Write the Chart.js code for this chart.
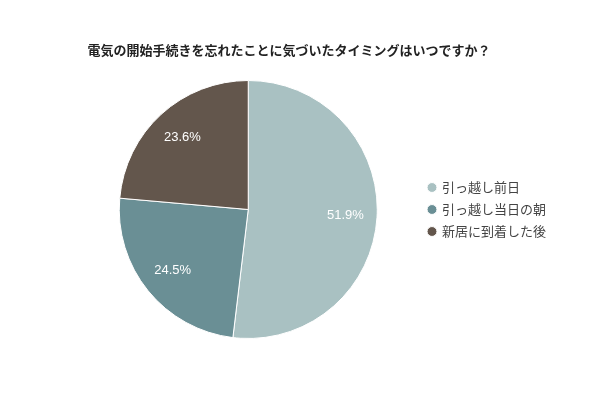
<!DOCTYPE html>
<html>
<head>
<meta charset="utf-8">
<script src="https://cdn.jsdelivr.net/npm/chart.js@4"></script>
<style>
  html, body { margin: 0; padding: 0; background: #fff; }
  #wrap { width: 600px; height: 400px; }
</style>
</head>
<body>
<div id="wrap"><canvas id="pieChart"></canvas></div>
<script>
const chartTitle = '電気の開始手続きを忘れたことに気づいたタイミングはいつですか？';
const labels = ["引っ越し前日", "引っ越し当日の朝", "新居に到着した後"];
const values = [51.9, 24.5, 23.6];
const colors = ["#a9c1c2", "#6a8f95", "#63564c"];

// タイトル（凡例と関係なく位置を決めたいので自前で描画）
const titleText = {
  id: 'titleText',
  afterDraw(chart) {
    const ctx = chart.ctx;
    ctx.save();
    ctx.fillStyle = '#222';
    ctx.font = 'bold 13px "Noto Sans CJK JP", sans-serif';
    ctx.textAlign = 'center';
    ctx.textBaseline = 'middle';
    ctx.fillText(chartTitle, 289, 50);
    ctx.restore();
  }
};

// スライス内にパーセント表示
const sliceLabels = {
  id: 'sliceLabels',
  afterDatasetsDraw(chart) {
    const ctx = chart.ctx;
    const meta = chart.getDatasetMeta(0);
    ctx.save();
    ctx.fillStyle = '#fff';
    ctx.font = '13px "Liberation Sans", Arial, sans-serif';
    ctx.textAlign = 'center';
    ctx.textBaseline = 'middle';
    meta.data.forEach((arc, i) => {
      const p = arc.getProps(['x', 'y', 'startAngle', 'endAngle', 'outerRadius'], true);
      const mid = (p.startAngle + p.endAngle) / 2;
      const r = p.outerRadius * 0.755;
      ctx.fillText(values[i].toFixed(1) + '%', p.x + Math.cos(mid) * r, p.y + Math.sin(mid) * r);
    });
    ctx.restore();
  }
};

var ctx = document.getElementById('pieChart').getContext('2d');
var myChart = new Chart(ctx, {
  type: 'pie',
  data: {
    labels: labels,
    datasets: [{
      data: values,
      backgroundColor: colors,
      borderColor: '#fff',
      borderWidth: 1
    }]
  },
  options: {
    responsive: true,
    maintainAspectRatio: false,
    animation: false,
    layout: {
      padding: { top: 80, bottom: 61, left: 77, right: 44 }
    },
    plugins: {
      title: { display: false },
      legend: {
        display: true,
        position: 'right',
        labels: {
          usePointStyle: true,
          pointStyle: 'circle',
          boxWidth: 7,
          boxHeight: 7,
          padding: 9,
          color: '#444',
          font: { family: '"Noto Sans CJK JP", sans-serif', size: 13 }
        }
      },
      tooltip: { enabled: false }
    }
  },
  plugins: [sliceLabels, titleText]
});
</script>
</body>
</html>
